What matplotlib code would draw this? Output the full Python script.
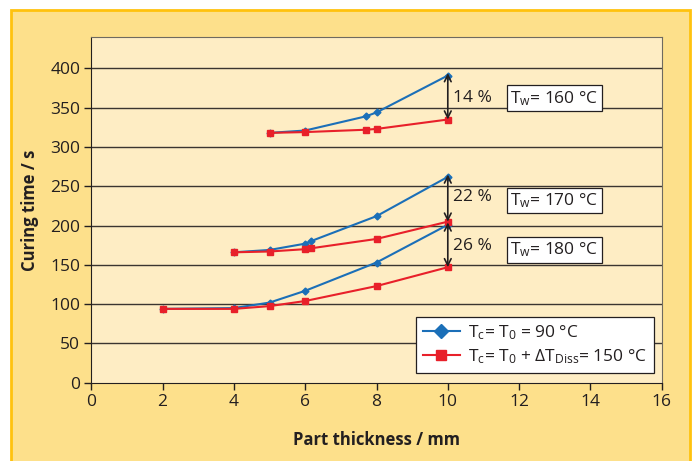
import matplotlib
matplotlib.use("Agg")
import matplotlib.pyplot as plt
from matplotlib.patches import Rectangle

# ------------------------------------------------------------------
# curing time (s) vs part thickness (mm)
x160 = [5, 6, 7.7, 8, 10]
blue160 = [318, 321, 339, 344, 391]
red160 = [318, 319, 322, 323, 335]

x170 = [4, 5, 6, 6.15, 8, 10]
blue170 = [166, 169, 177, 180, 212, 262]
red170 = [166, 167, 170, 171, 183, 205]

x180 = [2, 4, 5, 6, 8, 10]
blue180 = [94, 95, 102, 117, 153, 201]
red180 = [94, 94, 97.5, 104, 123, 147]

percent_labels = ["14 %", "22 %", "26 %"]
percent_y = [363, 236, 174]
tw_labels = [r"T$_\mathrm{w}$= 160 °C", r"T$_\mathrm{w}$= 170 °C", r"T$_\mathrm{w}$= 180 °C"]
tw_y = [362, 232, 169]
legend_labels = [r"T$_\mathrm{c}$= T$_\mathrm{0}$ = 90 °C",
                 r"T$_\mathrm{c}$= T$_\mathrm{0}$ + $\Delta$T$_\mathrm{Diss}$= 150 °C"]
# ------------------------------------------------------------------

plt.rcParams["font.family"] = ["Open Sans", "DejaVu Sans"]
plt.rcParams["mathtext.fontset"] = "custom"
plt.rcParams["mathtext.rm"] = "Open Sans"
plt.rcParams["mathtext.it"] = "Open Sans"
plt.rcParams["mathtext.bf"] = "Open Sans:bold"

txt = "#231f20"
blue = "#1b6fb8"
red = "#e8202a"

fig = plt.figure(figsize=(6.96, 4.61), dpi=100, facecolor="white")
fig.patches.append(Rectangle((11 / 696, -0.1), 679 / 696, 1.1 - 10 / 461,
                             transform=fig.transFigure, facecolor="#fde08b",
                             edgecolor="#ffc20e", linewidth=2, zorder=-10))

ax = fig.add_axes([0.1312, 0.1698, 0.8195, 0.7499])
ax.set_facecolor("#feedc4")

for y in range(50, 401, 50):
    ax.axhline(y, color="#3a3530", lw=1.0, zorder=1)

for xs, b, r in [(x160, blue160, red160), (x170, blue170, red170), (x180, blue180, red180)]:
    ax.plot(xs, b, color=blue, lw=1.5, marker="D", ms=3.5, zorder=3)
    ax.plot(xs, r, color=red, lw=1.5, marker="s", ms=3.8, zorder=4)

# double arrows at 10 mm
for b, r in [(blue160, red160), (blue170, red170), (blue180, red180)]:
    ax.annotate("", xy=(10, b[-1] + 3), xytext=(10, r[-1]),
                arrowprops=dict(arrowstyle="<->", color=txt, lw=1.2,
                                shrinkA=0, shrinkB=0, mutation_scale=12), zorder=5)

for lab, y in zip(percent_labels, percent_y):
    ax.text(10.15, y, lab, fontsize=12.5, color=txt, va="center", ha="left")

for lab, y in zip(tw_labels, tw_y):
    ax.text(11.75, y, lab, fontsize=12.5, color=txt, va="center", ha="left",
            bbox=dict(boxstyle="square,pad=0.2", facecolor="white", edgecolor=txt, lw=0.9))

h1, = ax.plot([], [], color=blue, lw=1.5, marker="D", ms=7.5)
h2, = ax.plot([], [], color=red, lw=1.5, marker="s", ms=7.5)
leg = ax.legend([h1, h2], legend_labels, loc="lower right", bbox_to_anchor=(0.9865, 0.028),
                borderaxespad=0, fontsize=12.5, fancybox=False, framealpha=1,
                edgecolor=txt, handlelength=2.1, labelspacing=0.3, borderpad=0.4,
                handletextpad=0.5)
leg.get_frame().set_linewidth(0.9)
for t in leg.get_texts():
    t.set_color(txt)

ax.set_xlim(0, 16)
ax.set_ylim(0, 440)
ax.set_xticks(range(0, 17, 2))
ax.set_yticks(range(0, 401, 50))
ax.tick_params(colors=txt, labelsize=12.5, length=5, width=1, pad=3)

for s in ["left", "bottom"]:
    ax.spines[s].set_color(txt)
for s in ["top", "right"]:
    ax.spines[s].set_color("#6e6a60")

ax.set_xlabel("Part thickness / mm", fontsize=12, fontweight="bold", color=txt, labelpad=15)
ax.set_ylabel("Curing time / s", fontsize=12, fontweight="bold", color=txt, labelpad=8)

fig.savefig("out.png", dpi=100, facecolor=fig.get_facecolor())
